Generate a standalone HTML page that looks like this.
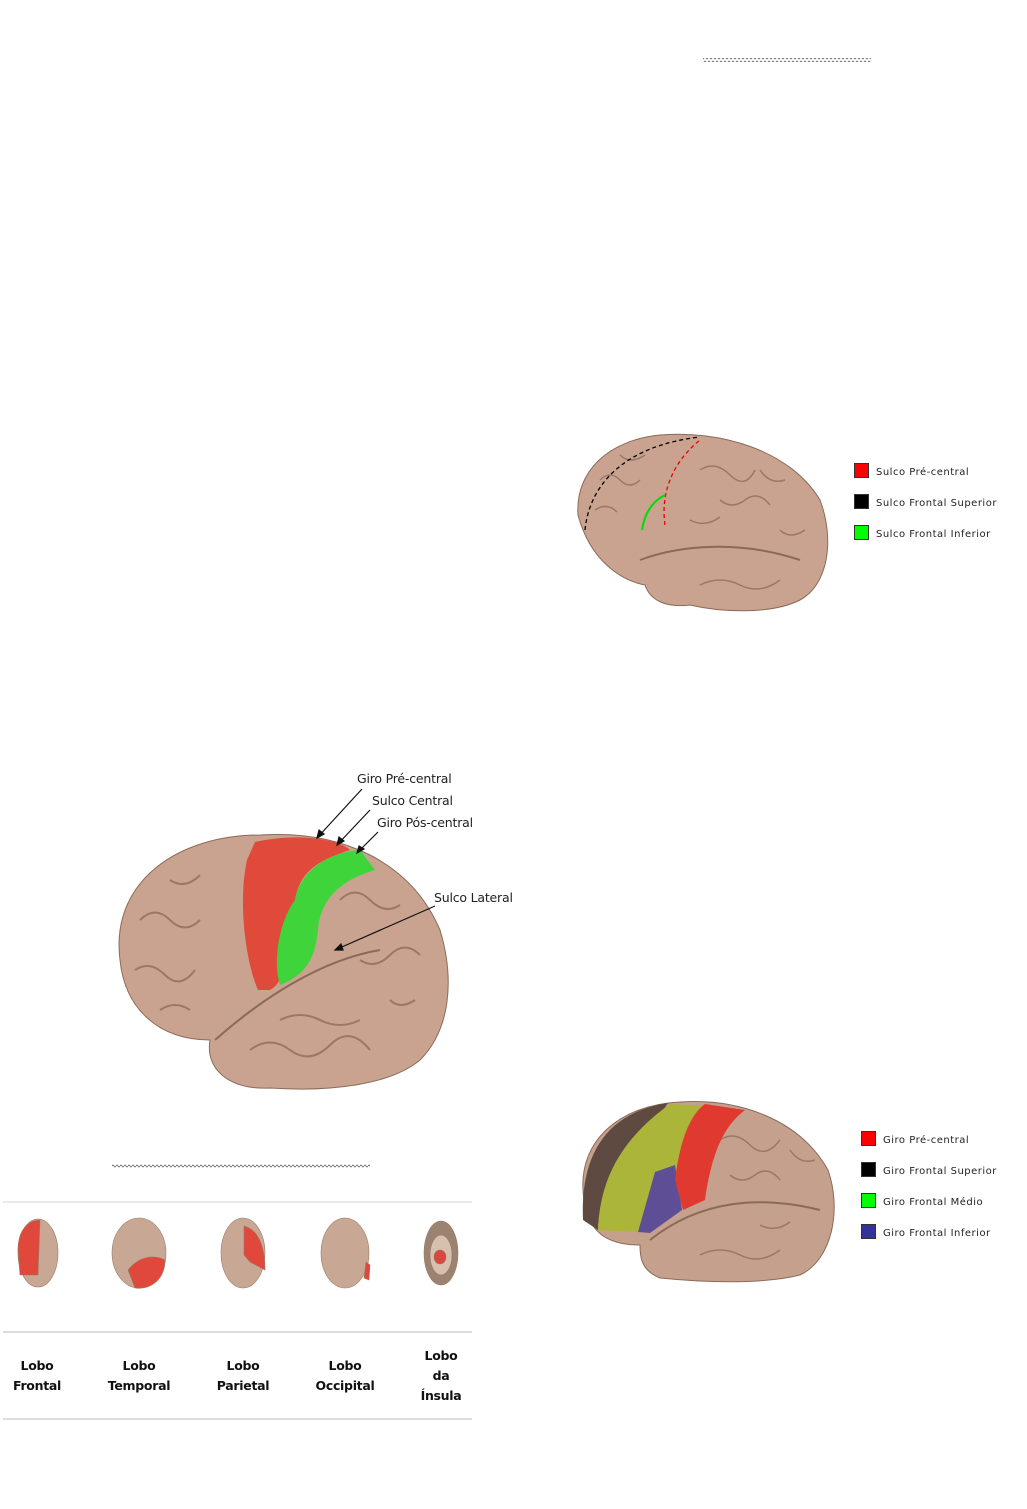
<!DOCTYPE html>
<html><head><meta charset="utf-8"><style>
body{margin:0;background:#fff;width:1027px;height:1509px;position:relative;overflow:hidden;font-family:"Liberation Sans","DejaVu Sans",sans-serif}
.t{position:absolute;white-space:nowrap}
.lg{font-family:"DejaVu Sans",sans-serif;font-size:10px;color:#222;letter-spacing:.5px}
.sq{position:absolute;width:15px;height:15px;border:1px solid #333;box-sizing:border-box}
.lb{position:absolute;font-family:"DejaVu Sans",sans-serif;font-weight:bold;font-size:12.5px;text-align:center;line-height:20px;color:#111;transform:translateX(-50%);letter-spacing:-.3px}
.an{font-family:"DejaVu Sans",sans-serif;font-size:12.5px;color:#222;letter-spacing:-.2px}
</style></head><body>
<svg width="1027" height="1509" style="position:absolute;left:0;top:0">
<defs>
<pattern id="w" width="4" height="4" patternUnits="userSpaceOnUse"><path d="M0 2 L1 1 L3 3 L4 2" stroke="#666" fill="none" stroke-width=".8"/></pattern>
</defs>
<rect x="703" y="58" width="168" height="4" fill="url(#w)"/>
<rect x="112" y="1164" width="258" height="4" fill="url(#w)"/>
<!-- brain 1 -->
<g>
<path d="M578 515 C575 470 610 440 660 435 C720 430 790 450 820 500 C835 540 828 585 800 600 C770 615 720 612 690 605 C665 608 650 600 645 585 C620 580 590 560 578 515Z" fill="#c9a390" stroke="#8a6a58" stroke-width="1"/>
<g stroke="#9b7764" fill="none" stroke-width="1.5">
<path d="M600 480 q10 -10 20 0 t20 0"/><path d="M595 510 q12 -8 22 2"/><path d="M700 470 q15 -10 30 5 t25 -5"/><path d="M720 500 q12 10 25 0 t25 5"/><path d="M690 520 q15 8 30 -3"/><path d="M760 470 q10 15 25 10"/><path d="M700 585 q20 -10 40 0 t40 -5"/><path d="M620 455 q10 10 25 0"/><path d="M780 530 q10 10 25 0"/>
</g>
<path d="M640 560 C680 545 740 540 800 560" stroke="#8a6a58" fill="none" stroke-width="2"/>
<path d="M585 530 C590 480 630 445 700 437" stroke="#000" stroke-dasharray="4 3" fill="none" stroke-width="1.3"/>
<path d="M665 525 C660 490 675 460 700 440" stroke="#e00" stroke-dasharray="4 3" fill="none" stroke-width="1.3"/>
<path d="M642 530 C645 510 655 500 665 495" stroke="#0d0" stroke-width="2" fill="none"/>
</g>
<!-- brain 2 -->
<g>
<path d="M120 960 C110 880 180 835 260 835 C340 830 410 860 440 930 C455 980 450 1030 420 1060 C390 1085 330 1092 270 1088 C230 1090 205 1070 210 1040 C160 1040 125 1010 120 960Z" fill="#c9a390" stroke="#8a6a58"/>
<g stroke="#9b7764" fill="none" stroke-width="2">
<path d="M140 920 q15 -15 30 0 t30 0"/><path d="M135 970 q15 -10 30 5 t30 -5"/><path d="M170 880 q15 10 30 -5"/><path d="M160 1010 q15 -10 30 0"/><path d="M340 900 q15 -15 30 0 t30 5"/><path d="M360 960 q15 10 30 -5 t30 0"/><path d="M250 1050 q20 -15 40 0 t40 -5 t40 5"/><path d="M280 1020 q20 -10 40 0 t40 0"/><path d="M390 1000 q10 10 25 0"/>
</g>
<path d="M255 842 C300 832 340 840 350 850 C320 860 300 870 295 900 C285 940 290 980 270 990 L258 990 C245 960 238 900 247 860Z" fill="#e04a3a"/>
<path d="M295 900 C300 870 330 852 360 850 L375 870 C340 880 320 900 318 930 C315 960 305 975 280 985 C272 960 280 920 295 900Z" fill="#3ed43a"/>
<path d="M215 1040 C260 1000 320 960 380 950" stroke="#8a6a58" stroke-width="2" fill="none"/>
</g>
<g stroke="#111" stroke-width="1.2" fill="#111">
<line x1="362" y1="789" x2="317" y2="838"/><polygon points="317,838 319,830 324,834"/>
<line x1="370" y1="810" x2="337" y2="845"/><polygon points="337,845 339,837 344,841"/>
<line x1="378" y1="832" x2="357" y2="853"/><polygon points="357,853 359,846 364,849"/>
<line x1="435" y1="906" x2="335" y2="950"/><polygon points="335,950 341,944 343,950"/>
</g>
<!-- brain 3 -->
<g>
<path d="M583 1190 C580 1140 620 1105 680 1102 C740 1098 800 1120 828 1170 C842 1210 832 1260 800 1275 C760 1285 700 1282 660 1278 C640 1270 640 1255 640 1245 C610 1245 585 1235 583 1190Z" fill="#c5a08d" stroke="#8a6a58"/>
<g stroke="#9b7764" fill="none" stroke-width="1.5">
<path d="M720 1140 q15 -10 30 5 t30 -5"/><path d="M730 1175 q12 10 25 0 t25 5"/><path d="M700 1255 q20 -10 40 0 t40 -5"/><path d="M760 1225 q15 8 30 -3"/><path d="M790 1150 q10 15 25 10"/>
</g>
<path d="M583 1220 C580 1150 610 1112 668 1103 L650 1130 C615 1150 600 1190 598 1230Z" fill="#5f4a42"/>
<path d="M598 1230 C600 1180 620 1140 670 1104 L705 1106 C690 1130 682 1160 675 1180 L655 1210 L638 1232Z" fill="#aab53a"/>
<path d="M638 1232 L655 1172 L675 1165 L682 1210 L650 1233Z" fill="#5e4e96"/>
<path d="M675 1180 C680 1140 690 1115 705 1104 L745 1110 C725 1125 712 1150 705 1200 L683 1210Z" fill="#e03a30"/>
<path d="M650 1240 C700 1200 760 1195 820 1210" stroke="#8a6a58" stroke-width="2" fill="none"/>
</g>
<!-- table -->
<line x1="3" y1="1202" x2="472" y2="1202" stroke="#e4e4e4" stroke-width="1.5"/>
<line x1="3" y1="1332" x2="472" y2="1332" stroke="#ddd" stroke-width="2"/>
<line x1="3" y1="1419" x2="472" y2="1419" stroke="#ddd" stroke-width="2"/>
<g stroke="#9a7a66" stroke-width=".6">
<ellipse cx="38" cy="1253" rx="20" ry="34" fill="#c8a894"/><path d="M18 1250 C18 1230 28 1220 40 1220 L38 1275 L20 1275Z" fill="#e0483c"/>
<ellipse cx="139" cy="1253" rx="27" ry="35" fill="#c8a894"/><path d="M128 1270 C140 1255 155 1255 165 1260 C165 1280 150 1290 135 1288Z" fill="#e0483c"/>
<ellipse cx="243" cy="1253" rx="22" ry="35" fill="#c8a894"/><path d="M244 1226 C260 1230 265 1250 265 1270 L250 1262 L244 1255Z" fill="#e0483c"/>
<ellipse cx="345" cy="1253" rx="24" ry="35" fill="#c8a894"/><path d="M366 1262 L370 1265 L369 1280 L364 1278Z" fill="#e0483c"/>
<ellipse cx="441" cy="1253" rx="17" ry="32" fill="#9c8270"/><ellipse cx="441" cy="1255" rx="11" ry="20" fill="#d6c0ae"/><ellipse cx="440" cy="1257" rx="6" ry="7" fill="#d8483c"/>
</g>
</svg>
<div class="t an" style="left:357px;top:771px">Giro Pré-central</div>
<div class="t an" style="left:372px;top:793px">Sulco Central</div>
<div class="t an" style="left:377px;top:815px">Giro Pós-central</div>
<div class="t an" style="left:434px;top:890px">Sulco Lateral</div>
<div class="sq" style="left:854px;top:463px;background:#f00"></div><div class="t lg" style="left:876px;top:467px">Sulco Pré-central</div>
<div class="sq" style="left:854px;top:494px;background:#000"></div><div class="t lg" style="left:876px;top:498px">Sulco Frontal Superior</div>
<div class="sq" style="left:854px;top:525px;background:#0f0"></div><div class="t lg" style="left:876px;top:529px">Sulco Frontal Inferior</div>
<div class="sq" style="left:861px;top:1131px;background:#f00"></div><div class="t lg" style="left:883px;top:1135px">Giro Pré-central</div>
<div class="sq" style="left:861px;top:1162px;background:#000"></div><div class="t lg" style="left:883px;top:1166px">Giro Frontal Superior</div>
<div class="sq" style="left:861px;top:1193px;background:#0f0"></div><div class="t lg" style="left:883px;top:1197px">Giro Frontal Médio</div>
<div class="sq" style="left:861px;top:1224px;background:#33339a"></div><div class="t lg" style="left:883px;top:1228px">Giro Frontal Inferior</div>
<div class="lb" style="left:37px;top:1356px">Lobo<br>Frontal</div>
<div class="lb" style="left:139px;top:1356px">Lobo<br>Temporal</div>
<div class="lb" style="left:243px;top:1356px">Lobo<br>Parietal</div>
<div class="lb" style="left:345px;top:1356px">Lobo<br>Occipital</div>
<div class="lb" style="left:441px;top:1346px">Lobo<br>da<br>Ínsula</div>
</body></html>
